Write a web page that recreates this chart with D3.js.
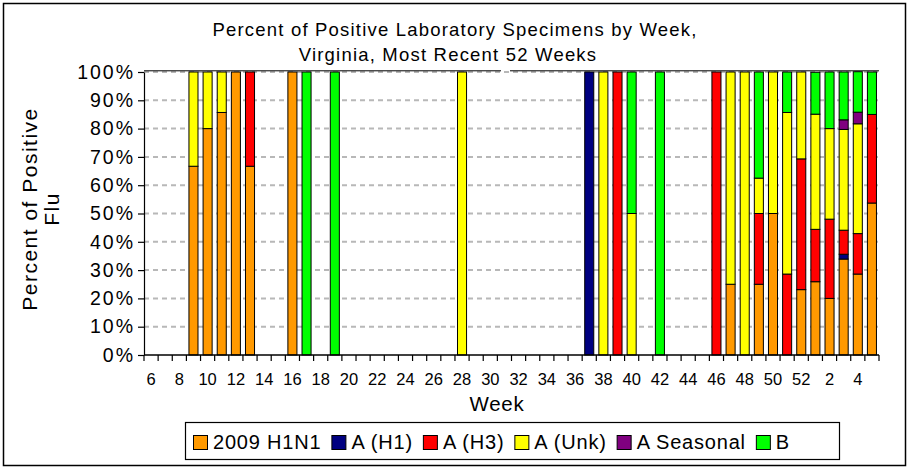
<!DOCTYPE html>
<html>
<head>
<meta charset="utf-8">
<script src="https://cdn.jsdelivr.net/npm/d3@7"></script>
<style>
  body { margin: 0; background: #fff; }
  text { font-family: "Liberation Sans", Arial, sans-serif; fill: #000; }
</style>
</head>
<body>
<div id="chart"></div>
<script>
/* Virginia flu specimens, percent positive by week */

const width = 909,
    height = 469,
    margin = ({ top: 72, right: 30, bottom: 114, left: 144 });

// week labels: 6..52 then 1..5
const weeks = [6,7,8,9,10,11,12,13,14,15,16,17,18,19,20,21,22,23,24,25,26,27,28,29,30,
    31,32,33,34,35,36,37,38,39,40,41,42,43,44,45,46,47,48,49,50,51,52,1,2,3,4,5];

const seriesNames = ["2009 H1N1", "A (H1)", "A (H3)", "A (Unk)", "A Seasonal", "B"];
const seriesColors = ["#FF9900", "#000080", "#FF0000", "#FFFF00", "#800080", "#00FF00"];

const h1n1 = [0,0,0,66.7,80,85.7,100,66.7,0,0,
    100,0,0,0,0,0,0,0,0,0,
    0,0,0,0,0,0,0,0,0,0,
    0,0,0,0,0,0,0,0,0,0,
    0,25,0,25,50,0,23.1,25.9,20,33.9,
    28.6,53.7];
const aH1 = [0,0,0,0,0,0,0,0,0,0,
    0,0,0,0,0,0,0,0,0,0,
    0,0,0,0,0,0,0,0,0,0,
    0,100,0,0,0,0,0,0,0,0,
    0,0,0,0,0,0,0,0,0,1.7,
    0,0];
const aH3 = [0,0,0,0,0,0,0,33.3,0,0,
    0,0,0,0,0,0,0,0,0,0,
    0,0,0,0,0,0,0,0,0,0,
    0,0,0,100,0,0,0,0,0,0,
    100,0,0,25,0,28.6,46.2,18.5,28,8.5,
    14.3,31.3];
const aUnk = [0,0,0,33.3,20,14.3,0,0,0,0,
    0,0,0,0,0,0,0,0,0,0,
    0,0,100,0,0,0,0,0,0,0,
    0,0,100,0,50,0,0,0,0,0,
    0,75,100,12.5,50,57.1,30.7,40.7,32,35.6,
    38.8,0];
const aSeasonal = [0,0,0,0,0,0,0,0,0,0,
    0,0,0,0,0,0,0,0,0,0,
    0,0,0,0,0,0,0,0,0,0,
    0,0,0,0,0,0,0,0,0,0,
    0,0,0,0,0,0,0,0,0,3.4,
    4.1,0];
const fluB = [0,0,0,0,0,0,0,0,0,0,
    0,100,0,100,0,0,0,0,0,0,
    0,0,0,0,0,0,0,0,0,0,
    0,0,0,0,50,0,100,0,0,0,
    0,0,0,37.5,0,14.3,0,14.8,20,16.9,
    14.3,15];

const yTicks = [0,10,20,30,40,50,60,70,80,90,100];

const seriesValues = [h1n1, aH1, aH3, aUnk, aSeasonal, fluB];

// table for d3.stack
const table = weeks.map((w, i) => {
    const row = { idx: i, week: w };
    seriesNames.forEach((s, j) => row[s] = seriesValues[j][i]);
    return row;
});

const svg = d3.select("#chart")
    .append("svg")
    .attr("width", width)
    .attr("height", height);

svg.append("rect")          // outer border
    .attr("x", 3.5).attr("y", 3.5)
    .attr("width", 902).attr("height", 462)
    .attr("fill", "#fff")
    .attr("stroke", "#000")
    .attr("stroke-width", 1.5);

let x = d3.scaleBand()
    .domain(d3.range(weeks.length))
    .range([margin.left, width - margin.right])
    .paddingInner(0.36)
    .paddingOuter(0.18);

let y = d3.scaleLinear()
    .domain([0, 100])
    .range([height - margin.bottom, margin.top]);

// gridlines
svg.append("g")
    .selectAll("line")
    .data(yTicks.filter(d => d > 0))
    .join("line")
    .attr("x1", margin.left)
    .attr("x2", width - margin.right)
    .attr("y1", d => y(d))
    .attr("y2", d => y(d))
    .attr("stroke", "#b8b8b8")
    .attr("stroke-width", 2)
    .attr("stroke-dasharray", "5,4");

// top edge of plot (with the small break under the title)
svg.append("path")
    .attr("d", `M${margin.left},${y(100) - 1.2}H501M510,${y(100) - 1.2}H${width - margin.right}`)
    .attr("stroke", "#000")
    .attr("stroke-width", 1);

const stacked = d3.stack().keys(seriesNames)(table);

svg.append("g")
    .selectAll("g")
    .data(stacked)
    .join("g")
    .attr("fill", (d, i) => seriesColors[i])
    .selectAll("rect")
    .data(d => d.filter(p => p[1] - p[0] > 0))
    .join("rect")
    .attr("x", d => x(d.data.idx))
    .attr("width", x.bandwidth())
    .attr("y", d => y(d[1]))
    .attr("height", d => y(d[0]) - y(d[1]))
    .attr("stroke", "#000")
    .attr("stroke-width", 1);

// y axis
svg.append("g")
    .attr("transform", `translate(${margin.left},0)`)
    .call(d3.axisLeft(y).tickValues(yTicks).tickFormat(d => d + "%").tickSize(6).tickSizeOuter(0).tickPadding(3))
    .call(g => g.selectAll("line, path").attr("stroke", "#000").attr("stroke-width", 1.2))
    .call(g => g.selectAll("text").attr("font-size", 19.5).attr("letter-spacing", 2)
        .attr("font-family", "Liberation Sans, Arial"));

// x axis baseline + ticks at band edges
const edges = d3.range(weeks.length + 1).map(i => margin.left + i * (width - margin.right - margin.left) / weeks.length);

svg.append("line")
    .attr("x1", margin.left).attr("x2", width - margin.right)
    .attr("y1", y(0)).attr("y2", y(0))
    .attr("stroke", "#000").attr("stroke-width", 1.5);

svg.append("g")
    .selectAll("line")
    .data(edges)
    .join("line")
    .attr("x1", d => d).attr("x2", d => d)
    .attr("y1", y(0)).attr("y2", y(0) + 6)
    .attr("stroke", "#000").attr("stroke-width", 1.2);

svg.append("g")
    .attr("transform", `translate(0,${y(0)})`)
    .call(d3.axisBottom(x).tickSize(0).tickPadding(18)
        .tickFormat(i => i % 2 === 0 ? weeks[i] : ""))
    .call(g => g.select(".domain").remove())
    .call(g => g.selectAll("text").attr("font-size", 16.5).attr("font-family", "Liberation Sans, Arial"));

// title
const title = svg.append("text")
    .attr("text-anchor", "middle")
    .attr("font-size", 18.5)
    .attr("letter-spacing", 1.2);
title.append("tspan").attr("x", 455).attr("y", 36).text("Percent of Positive Laboratory Specimens by Week,");
title.append("tspan").attr("x", 448).attr("y", 61).text("Virginia, Most Recent 52 Weeks");

// axis labels
svg.append("text")
    .attr("text-anchor", "middle")
    .attr("x", 497)
    .attr("y", 411)
    .attr("font-size", 20.5)
    .attr("letter-spacing", 0.8)
    .text("Week");

const ylab = svg.append("text")
    .attr("text-anchor", "middle")
    .attr("transform", "translate(0,209) rotate(-90)")
    .attr("font-size", 21)
    .attr("letter-spacing", 1.5);
ylab.append("tspan").attr("x", 0).attr("y", 37).text("Percent of Positive");
ylab.append("tspan").attr("x", 0).attr("y", 59).text("Flu");

// legend
const legend = svg.append("g");
legend.append("rect")
    .attr("x", 185.5).attr("y", 422.5)
    .attr("width", 654).attr("height", 37)
    .attr("fill", "#fff")
    .attr("stroke", "#000")
    .attr("stroke-width", 1.2);

let lx = 193;
seriesNames.forEach((s, i) => {
    legend.append("rect")
        .attr("x", lx + 0.5).attr("y", 435.5)
        .attr("width", 14).attr("height", 14)
        .attr("fill", seriesColors[i])
        .attr("stroke", "#000")
        .attr("stroke-width", 1);
    const t = legend.append("text")
        .attr("x", lx + 20)
        .attr("y", 449)
        .attr("font-size", 20)
        .attr("letter-spacing", 0.8)
        .text(s);
    lx += 20 + t.node().getComputedTextLength() + 10;
});
</script>
</body>
</html>
